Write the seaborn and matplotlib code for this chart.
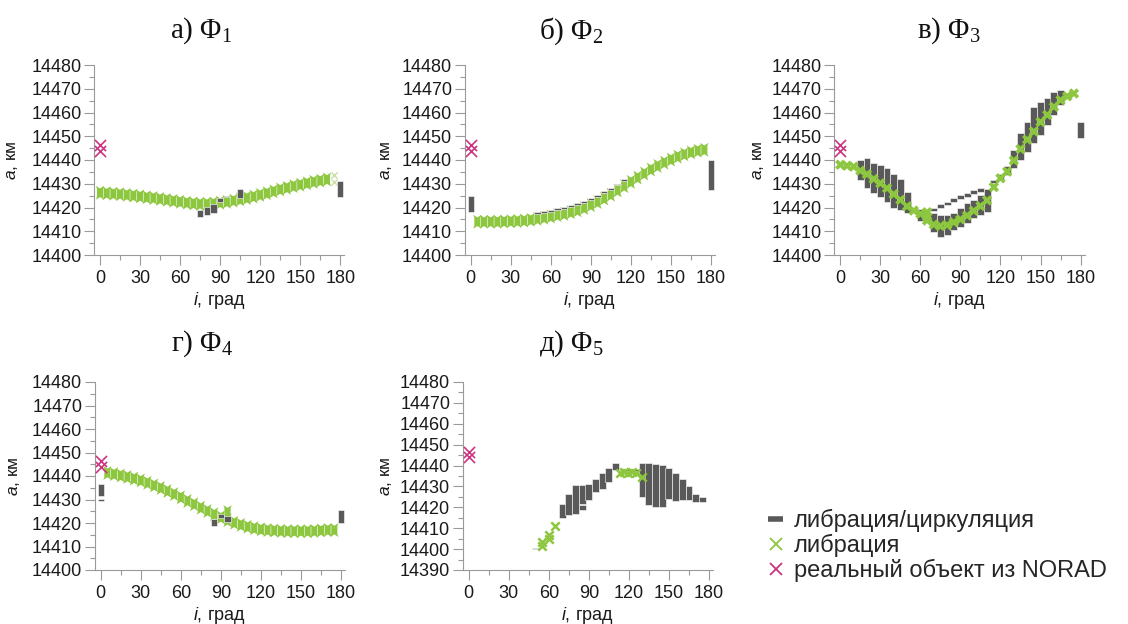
import numpy as np
import matplotlib
matplotlib.use("Agg")
import matplotlib.pyplot as plt
from matplotlib.path import Path
from matplotlib.lines import Line2D
from matplotlib.ticker import MultipleLocator
import seaborn as sns

sns.set_theme(style="ticks")
plt.rcParams['font.family'] = ['Liberation Sans', 'DejaVu Sans']
plt.rcParams['mathtext.fontset'] = 'custom'
plt.rcParams['mathtext.rm'] = 'Liberation Serif'
plt.rcParams['mathtext.it'] = 'Liberation Sans:italic'

# ---------------- data ----------------
norad_i = [0, 0]
norad_a = [14444.0, 14446.5]

# а) Ф1
a_lib_i = [0, 5, 10, 15, 20, 25, 30, 35, 40, 45, 50, 55, 60, 65, 70, 75, 80, 85,
           90, 95, 100, 105, 110, 115, 120, 125, 130, 135, 140, 145, 150, 155, 160, 165, 170]
a_lib_a = [14426.2, 14426.0, 14425.8, 14425.6, 14425.3, 14425.0, 14424.7, 14424.3, 14424.0,
           14423.6, 14423.2, 14422.8, 14422.4, 14422.0, 14421.7, 14421.5, 14421.5, 14421.7,
           14422.0, 14422.4, 14422.9, 14423.4, 14424.0, 14424.6, 14425.3, 14426.0, 14426.8,
           14427.6, 14428.3, 14429.0, 14429.6, 14430.2, 14430.8, 14431.3, 14431.8]
a_faint_i = [175, 175]
a_faint_a = [14430.9, 14433.7]
a_mix_i = [75, 80, 85, 90, 95, 105, 180]
a_mix_lo = [14416.0, 14416.8, 14417.8, 14422.5, 14424.4, 14423.9, 14424.6]
a_mix_hi = [14418.9, 14420.1, 14421.5, 14424.1, 14425.0, 14427.7, 14431.0]

# б) Ф2
b_lib_i = [5, 10, 15, 20, 25, 30, 35, 40, 45, 50, 55, 60, 65, 70, 75, 80, 85, 90,
           95, 100, 105, 110, 115, 120, 125, 130, 135, 140, 145, 150, 155, 160, 165, 170, 175]
b_lib_a = [14414.0, 14414.0, 14414.0, 14414.0, 14414.1, 14414.2, 14414.3, 14414.5, 14414.8,
           14415.2, 14415.7, 14416.2, 14416.8, 14417.3, 14418.0, 14418.8, 14419.8, 14421.0,
           14422.3, 14423.8, 14425.4, 14427.2, 14429.0, 14430.8, 14432.6, 14434.3, 14436.0,
           14437.5, 14438.9, 14440.2, 14441.4, 14442.4, 14443.2, 14443.9, 14444.3]
b_mix_i = [0, 50, 55, 60, 65, 70, 75, 80, 85, 90, 95, 100, 105, 110, 115, 180]
b_mix_lo = [14418.2, 14417.3, 14417.8, 14418.3, 14418.9, 14419.4, 14420.1, 14420.9, 14421.9,
            14423.1, 14424.4, 14425.9, 14427.5, 14429.3, 14431.1, 14427.5]
b_mix_hi = [14424.8, 14418.1, 14418.6, 14419.1, 14419.7, 14420.2, 14420.9, 14421.7, 14422.7,
            14424.1, 14425.3, 14426.8, 14428.4, 14430.1, 14432.0, 14439.8]

# в) Ф3
c_lib_i = [0, 5, 10, 15, 20, 25, 30, 35, 40, 45, 50, 55, 60, 65, 70, 75, 80, 85, 90,
           95, 100, 105, 110, 115, 120, 125, 130, 135, 140, 145, 150, 155, 160, 165, 170, 175,
           65, 65]
c_lib_a = [14438.0, 14437.6, 14437.2, 14435.5, 14434.0, 14432.0, 14430.2, 14428.1, 14425.6,
           14423.2, 14420.5, 14418.7, 14417.3, 14416.0, 14412.8, 14412.2, 14412.6, 14413.8,
           14415.0, 14416.6, 14418.6, 14420.6, 14423.0, 14428.6, 14432.3, 14435.1, 14439.8,
           14444.6, 14448.6, 14452.0, 14456.0, 14459.0, 14462.4, 14465.2, 14466.8, 14468.0,
           14418.0, 14414.5]
c_mix_i = [15, 20, 25, 30, 35, 40, 45, 50, 60, 65,
           70, 75, 80, 85, 90, 95, 100, 105,
           70, 75, 80, 85, 90, 95, 100, 105,
           110, 115, 120, 125, 130, 135, 140, 145, 150, 155, 160, 165, 170, 180]
c_mix_lo = [14431.6, 14428.1, 14426.0, 14424.6, 14422.5, 14419.6, 14419.0, 14417.5, 14414.2, 14414.0,
            14409.8, 14407.7, 14408.4, 14410.5, 14411.9, 14413.3, 14415.4, 14416.8,
            14418.5, 14419.9, 14421.1, 14422.4, 14423.6, 14424.6, 14425.7, 14426.7,
            14418.2, 14430.2, 14431.6, 14433.7, 14436.5, 14440.0, 14443.5, 14447.0, 14450.5,
            14454.8, 14459.0, 14463.2, 14466.0, 14449.1]
c_mix_hi = [14440.0, 14440.7, 14438.6, 14437.9, 14436.5, 14434.0, 14431.9, 14426.7, 14419.2, 14418.0,
            14417.5, 14416.8, 14416.8, 14417.5, 14419.6, 14421.8, 14423.2, 14425.3,
            14419.9, 14421.3, 14422.3, 14423.8, 14425.3, 14426.2, 14427.4, 14428.1,
            14427.6, 14431.6, 14433.9, 14437.5, 14444.2, 14451.2, 14456.1, 14462.4, 14464.5,
            14466.0, 14468.8, 14469.5, 14468.1, 14456.1]

# г) Ф4
d_lib_i = [5, 10, 15, 20, 25, 30, 35, 40, 45, 50, 55, 60, 65, 70, 75, 80, 85, 90,
           95, 100, 105, 110, 115, 120, 125, 130, 135, 140, 145, 150, 155, 160, 165, 170, 175, 95]
d_lib_a = [14441.3, 14440.8, 14440.2, 14439.6, 14438.9, 14438.1, 14437.1, 14436.0, 14434.9,
           14433.6, 14432.3, 14430.9, 14429.4, 14428.0, 14426.5, 14425.1, 14423.7, 14422.4,
           14421.2, 14420.1, 14419.2, 14418.4, 14417.8, 14417.3, 14417.0, 14416.8, 14416.6,
           14416.5, 14416.5, 14416.5, 14416.5, 14416.6, 14416.8, 14417.0, 14417.0, 14424.6]
d_mix_i = [0, 0, 85, 90, 95, 180]
d_mix_lo = [14431.4, 14429.4, 14418.6, 14422.3, 14420.5, 14419.8]
d_mix_hi = [14436.5, 14430.3, 14421.6, 14423.7, 14422.9, 14425.7]

# д) Ф5
e_lib_i = [55, 55, 60, 60, 65, 113, 116, 119, 122, 125, 130]
e_lib_a = [14401.6, 14403.2, 14405.0, 14406.8, 14411.0, 14436.4, 14436.9, 14436.5,
           14436.8, 14436.6, 14434.3]
e_mix_i = [50, 70, 75, 80, 85, 85, 90, 95, 100, 105, 110, 115, 120, 125, 130, 135, 140,
           145, 150, 155, 160, 165, 170, 175]
e_mix_lo = [14400.0, 14415.0, 14416.2, 14417.0, 14421.5, 14418.5, 14423.6, 14427.4, 14429.0,
            14432.2, 14437.8, 14437.2, 14437.4, 14437.6, 14425.0, 14421.0, 14420.2, 14420.2,
            14423.8, 14423.2, 14423.4, 14423.4, 14422.6, 14422.6]
e_mix_hi = [14400.6, 14421.6, 14426.6, 14430.6, 14430.6, 14420.9, 14431.4, 14433.8, 14436.2,
            14438.6, 14441.3, 14438.0, 14438.3, 14438.5, 14441.3, 14441.3, 14440.7, 14440.2,
            14438.6, 14436.2, 14433.4, 14430.1, 14426.6, 14425.0]

titles = ["а) Φ$_{\\mathrm{1}}$", "б) Φ$_{\\mathrm{2}}$", "в) Φ$_{\\mathrm{3}}$",
          "г) Φ$_{\\mathrm{4}}$", "д) Φ$_{\\mathrm{5}}$"]
legend_labels = ["либрация/циркуляция", "либрация", "реальный объект из NORAD"]

# ---------------- style ----------------
GREEN = '#8dc63f'
GRAY = '#595959'
MAGENTA = '#cc3380'
FAINT = '#c9e2a4'
SPINE = '#9a9a9a'

col_marker = Path([(-0.6, 1.0), (0, 0.62), (0.6, 1.0), (0.44, 0.6), (0.44, -0.6),
                   (0.6, -1.0), (0, -0.62), (-0.6, -1.0), (-0.44, -0.6), (-0.44, 0.6),
                   (-0.6, 1.0)],
                  [Path.MOVETO] + [Path.LINETO] * 9 + [Path.CLOSEPOLY])

W, H = 1128, 624
fig = plt.figure(figsize=(W / 100, H / 100), dpi=100)

XMIN, XMAX = -4.5, 183.0
PXDEG = 1.335


def make_ax(x0, top, bottom):
    left = x0 + XMIN * PXDEG
    width = (XMAX - XMIN) * PXDEG
    return fig.add_axes([left / W, 1 - bottom / H, width / W, (bottom - top) / H])


def style_ax(ax, ylo, yhi):
    ax.set_xlim(XMIN, XMAX)
    ax.set_ylim(ylo, yhi)
    ax.xaxis.set_major_locator(MultipleLocator(30))
    ax.xaxis.set_minor_locator(MultipleLocator(15))
    ax.yaxis.set_major_locator(MultipleLocator(10))
    ax.yaxis.set_minor_locator(MultipleLocator(5))
    for s in ['top', 'right']:
        ax.spines[s].set_visible(False)
    for s in ['left', 'bottom']:
        ax.spines[s].set_color(SPINE)
        ax.spines[s].set_linewidth(0.8)
    ax.tick_params(axis='both', which='both', bottom=True, left=True, top=False, right=False)
    ax.tick_params(axis='both', which='major', length=7, width=0.8, color=SPINE,
                   labelsize=13, labelcolor='#1a1a1a', direction='out')
    ax.tick_params(axis='both', which='minor', length=3.5, width=0.8, color=SPINE,
                   direction='out')
    ax.tick_params(axis='y', which='major', pad=2)
    ax.tick_params(axis='x', which='major', pad=4)
    ax.set_xlabel('$i$, град', fontsize=13, labelpad=2, color='#1a1a1a')
    ax.set_ylabel('')
    ax.grid(False)
    ax.set_facecolor('none')


def draw(ax, lib_i, lib_a, mix_i, mix_lo, mix_hi, marker_kind, gray_top, bw):
    zg = 4 if gray_top else 2
    ax.bar(mix_i, np.subtract(mix_hi, mix_lo), bottom=mix_lo, width=bw, color=GRAY,
           edgecolor='white', linewidth=0.4, zorder=zg)
    if marker_kind == 'col':
        sns.scatterplot(x=lib_i, y=lib_a, ax=ax, marker=col_marker, s=10.0 ** 2, color=GREEN,
                        edgecolor='none', linewidth=0, zorder=3, legend=False)
    elif marker_kind == 'X':
        sns.scatterplot(x=lib_i, y=lib_a, ax=ax, marker='X', s=7.5 ** 2, color=GREEN,
                        edgecolor='none', linewidth=0, zorder=3, legend=False)
    else:
        sns.scatterplot(x=lib_i, y=lib_a, ax=ax, marker='x', s=6.0 ** 2, color=GREEN,
                        linewidth=1.8, zorder=3, legend=False)
    sns.scatterplot(x=norad_i, y=norad_a, ax=ax, marker='x', s=8 ** 2, color=MAGENTA,
                    linewidth=1.2, zorder=5, legend=False)


panels = [
    dict(x0=100.0, top=65, bottom=255, ylim=(14400, 14480), lib=(a_lib_i, a_lib_a),
         mix=(a_mix_i, a_mix_lo, a_mix_hi), kind='col', gtop=True, bw=4.6,
         title=(201, 31), ylab=13),
    dict(x0=470.7, top=65, bottom=255, ylim=(14400, 14480), lib=(b_lib_i, b_lib_a),
         mix=(b_mix_i, b_mix_lo, b_mix_hi), kind='col', gtop=True, bw=4.6,
         title=(571, 31), ylab=387),
    dict(x0=840.3, top=65, bottom=255, ylim=(14400, 14480), lib=(c_lib_i, c_lib_a),
         mix=(c_mix_i, c_mix_lo, c_mix_hi), kind='X', gtop=False, bw=5.2,
         title=(949, 31), ylab=758),
    dict(x0=100.7, top=382, bottom=570, ylim=(14400, 14480), lib=(d_lib_i, d_lib_a),
         mix=(d_mix_i, d_mix_lo, d_mix_hi), kind='col', gtop=True, bw=4.6,
         title=(202, 344), ylab=15),
    dict(x0=468.7, top=382, bottom=570, ylim=(14390, 14480), lib=(e_lib_i, e_lib_a),
         mix=(e_mix_i, e_mix_lo, e_mix_hi), kind='x', gtop=False, bw=5.2,
         title=(571, 344), ylab=386),
]

for k, p in enumerate(panels):
    ax = make_ax(p['x0'], p['top'], p['bottom'])
    draw(ax, *p['lib'], *p['mix'], p['kind'], p['gtop'], p['bw'])
    if k == 0:
        sns.scatterplot(x=a_faint_i, y=a_faint_a, ax=ax, marker='x', s=4.5 ** 2, color=FAINT,
                        linewidth=1.0, zorder=3, legend=False)
    style_ax(ax, *p['ylim'])
    tx, ty = p['title']
    fig.text(tx / W, 1 - ty / H, titles[k], ha='center', va='center', fontsize=21,
             family=['Liberation Serif', 'DejaVu Serif'], color='#111111')
    fig.text(p['ylab'] / W, 1 - ((p['top'] + p['bottom']) / 2) / H, '$a$, км', rotation=90,
             ha='center', va='center', fontsize=12.5, color='#1a1a1a')

handles = [
    Line2D([0], [0], color=GRAY, lw=4, solid_capstyle='butt'),
    Line2D([0], [0], marker='x', color=GREEN, linestyle='none', markersize=8, mew=1.3),
    Line2D([0], [0], marker='x', color=MAGENTA, linestyle='none', markersize=8, mew=1.3),
]
fig.legend(handles=handles, labels=legend_labels, loc='upper left',
           bbox_to_anchor=(768 / W, 1 - 509 / H), frameon=False, fontsize=17,
           handlelength=0.65, handletextpad=0.45, labelspacing=0.08, borderpad=0,
           borderaxespad=0)

fig.savefig('out.png', dpi=100)
